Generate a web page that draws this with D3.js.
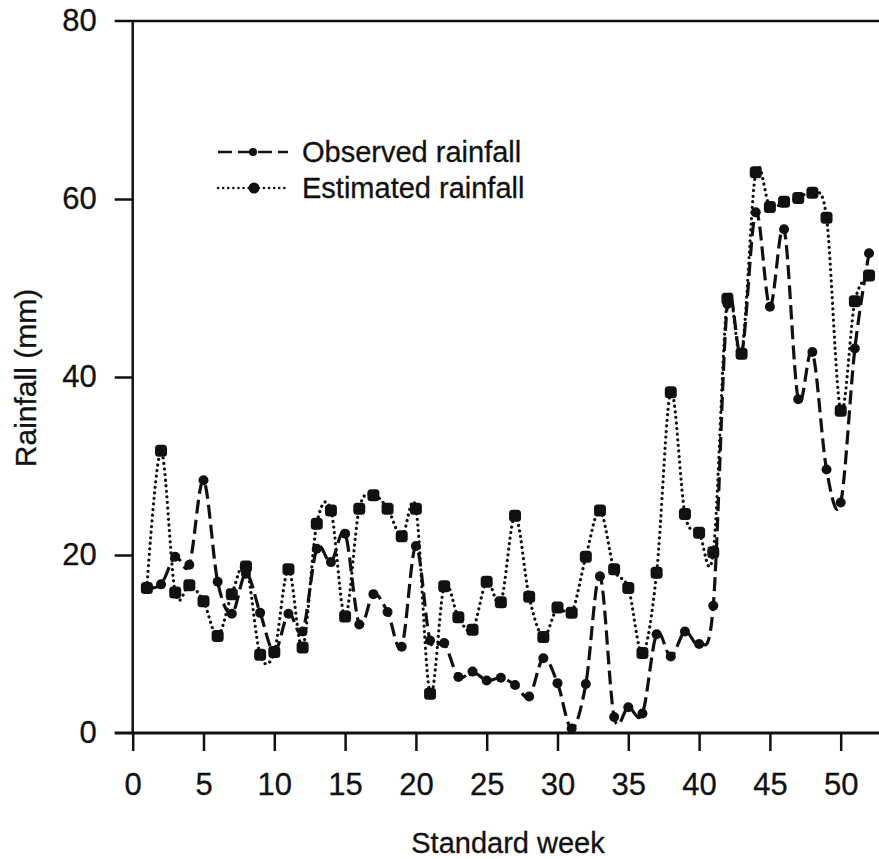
<!DOCTYPE html>
<html>
<head>
    <meta charset="utf-8">
    <script src="https://cdn.jsdelivr.net/npm/d3@7"></script>
    <style>
        body { margin: 0; background: #fff; }
        svg { font-family: "Liberation Sans", Arial, Helvetica, sans-serif; }
        .axis path, .axis line { stroke: #111; stroke-width: 2.5px; }
        .axis text { font-size: 31px; fill: #111; stroke: #111; stroke-width: 0.3px; }
        path.observed { fill: none; stroke: #111; stroke-width: 3.2px; stroke-dasharray: 14 6; }
        path.estimated { fill: none; stroke: #111; stroke-width: 3.2px; stroke-dasharray: 0.1 5.5; stroke-linecap: round; }
        .title { font-size: 29px; fill: #111; stroke: #111; stroke-width: 0.3px; }
        .legend text { font-size: 29px; fill: #111; stroke: #111; stroke-width: 0.3px; }
    </style>
</head>
<body>
<div id="chart"></div>
<script>

    var weeks = [1, 2, 3, 4, 5, 6, 7, 8, 9, 10, 11, 12, 13, 14, 15, 16, 17, 18, 19, 20,
        21, 22, 23, 24, 25, 26, 27, 28, 29, 30, 31, 32, 33, 34, 35, 36, 37, 38, 39, 40,
        41, 42, 43, 44, 45, 46, 47, 48, 49, 50, 51, 52];

    var observed = [16.3, 16.7, 19.8, 18.9, 28.4, 17.0, 13.4, 17.9, 13.5, 9.1,
        13.4, 11.4, 20.7, 19.2, 22.4, 12.2, 15.6, 13.6, 9.7, 21.0,
        10.4, 10.1, 6.3, 6.9, 5.9, 6.2, 5.4, 4.1, 8.4, 5.6,
        0.5, 5.5, 17.6, 1.8, 2.9, 2.2, 11.1, 8.6, 11.4, 10.0,
        14.3, 48.2, 42.6, 58.5, 47.9, 56.6, 37.5, 42.8, 29.6, 25.9, 43.2, 53.9];

    var estimated = [16.3, 31.7, 15.8, 16.6, 14.8, 10.9, 15.6, 18.7, 8.8, 9.1,
        18.4, 9.6, 23.5, 25.0, 13.1, 25.2, 26.7, 25.2, 22.1, 25.2,
        4.4, 16.5, 13.0, 11.6, 17.0, 14.7, 24.4, 15.3, 10.8, 14.1,
        13.5, 19.8, 25.0, 18.4, 16.3, 9.0, 18.0, 38.3, 24.6, 22.5,
        20.3, 48.8, 42.6, 63.0, 59.1, 59.7, 60.1, 60.7, 57.9, 36.2, 48.5, 51.4];

    var xTicks = [0, 5, 10, 15, 20, 25, 30, 35, 40, 45, 50];
    var yTicks = [0, 20, 40, 60, 80];

    var width = 879, height = 859;

    var x = d3.scaleLinear().domain([0, 50]).range([132.7, 840.7]);
    var y = d3.scaleLinear().domain([0, 80]).range([733, 21]);

    var svg = d3.select("#chart").append("svg")
        .attr("width", width)
        .attr("height", height);

    // axes
    var xAxis = svg.append("g")
        .attr("class", "axis")
        .attr("transform", "translate(0," + y(0) + ")")
        .call(d3.axisBottom(x).tickValues(xTicks).tickSize(18).tickPadding(22).tickSizeOuter(0));
    xAxis.select(".domain").remove();

    var yAxis = svg.append("g")
        .attr("class", "axis")
        .attr("transform", "translate(" + x(0) + ",0)")
        .call(d3.axisLeft(y).tickValues(yTicks).tickSize(18).tickPadding(18).tickSizeOuter(0));
    yAxis.select(".domain").remove();
    yAxis.selectAll(".tick").filter(function (d) { return d === 0 || d === 80; }).select("line").remove();

    // frame lines: bottom, top, left
    svg.append("line")
        .attr("x1", x(0) - 18).attr("x2", width).attr("y1", y(0)).attr("y2", y(0))
        .attr("stroke", "#111").attr("stroke-width", 3);
    svg.append("line")
        .attr("x1", x(0) - 18).attr("x2", width).attr("y1", y(80)).attr("y2", y(80))
        .attr("stroke", "#111").attr("stroke-width", 2.5);
    svg.append("line")
        .attr("x1", x(0)).attr("x2", x(0)).attr("y1", y(80)).attr("y2", y(0))
        .attr("stroke", "#111").attr("stroke-width", 2.5);

    // titles
    svg.append("text").attr("class", "title")
        .attr("x", 508).attr("y", 853)
        .attr("text-anchor", "middle")
        .text("Standard week");

    svg.append("text").attr("class", "title")
        .attr("transform", "translate(36," + 378 + ") rotate(-90)")
        .attr("text-anchor", "middle")
        .style("font-size", "30px")
        .text("Rainfall (mm)");

    // series
    var line = d3.line()
        .x(function (d) { return x(d[0]); })
        .y(function (d) { return y(d[1]); })
        .curve(d3.curveCatmullRom.alpha(0));

    var obsData = weeks.map(function (w, i) { return [w, observed[i]]; });
    var estData = weeks.map(function (w, i) { return [w, estimated[i]]; });

    svg.append("path").attr("class", "estimated").attr("d", line(estData));
    svg.append("path").attr("class", "observed").attr("d", line(obsData));

    svg.append("g").selectAll("rect")
        .data(estData)
        .enter().append("rect")
        .attr("x", function (d) { return x(d[0]) - 6; })
        .attr("y", function (d) { return y(d[1]) - 6; })
        .attr("width", 12).attr("height", 12)
        .attr("rx", 3.5)
        .attr("fill", "#111");

    svg.append("g").selectAll("circle")
        .data(obsData)
        .enter().append("circle")
        .attr("cx", function (d) { return x(d[0]); })
        .attr("cy", function (d) { return y(d[1]); })
        .attr("r", 5)
        .attr("fill", "#111");

    // legend
    var legend = svg.append("g").attr("class", "legend");

    var lo = legend.append("g").attr("transform", "translate(0,152)");
    lo.append("line").attr("x1", 218).attr("x2", 288)
        .attr("stroke", "#111").attr("stroke-width", 2.5).attr("stroke-dasharray", "14 6");
    lo.append("circle").attr("cx", 253).attr("r", 4).attr("fill", "#111");
    lo.append("text").attr("x", 302).attr("y", 10).text("Observed rainfall");

    var le = legend.append("g").attr("transform", "translate(0,188)");
    le.append("line").attr("x1", 218).attr("x2", 288)
        .attr("stroke", "#111").attr("stroke-width", 2.5)
        .attr("stroke-dasharray", "0.1 5").attr("stroke-linecap", "round");
    le.append("circle").attr("cx", 254).attr("r", 5.5).attr("fill", "#111");
    le.append("text").attr("x", 302).attr("y", 10).text("Estimated rainfall");

</script>
</body>
</html>
